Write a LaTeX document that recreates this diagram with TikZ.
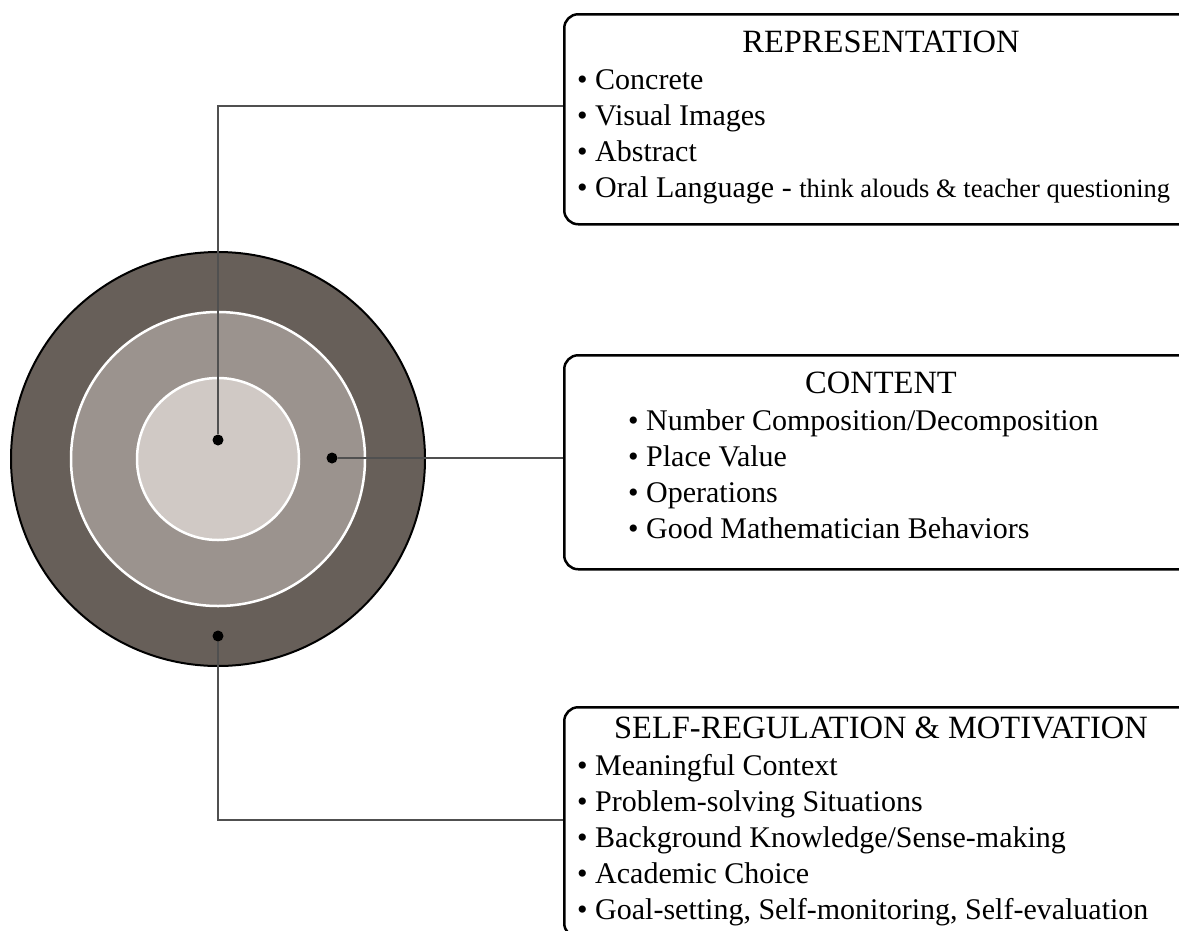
\documentclass[tikz,border=0pt]{standalone}
\usepackage{fontspec}
\setmainfont{Liberation Serif}

\definecolor{ringouter}{RGB}{103,95,89}
\definecolor{ringmid}{RGB}{155,147,142}
\definecolor{ringinner}{RGB}{208,201,197}
\definecolor{leadgray}{RGB}{80,80,80}

\tikzset{
    panel/.style={draw=black, line width=2.5pt, rounded corners=14pt,
        minimum width=636pt, inner sep=0pt, anchor=north west},
    heading/.style={anchor=base, inner sep=0pt, font=\fontsize{32.5}{36}\selectfont},
    item/.style={anchor=base west, inner sep=0pt, font=\fontsize{30}{36}\selectfont},
    pin/.style={circle, fill=black, inner sep=0pt, minimum size=11pt},
    leader/.style={draw=leadgray, line width=1.5pt}
}

\begin{document}
\begin{tikzpicture}[x=1pt, y=-1pt]
    \useasboundingbox (0,0) rectangle (1179,930);
    \clip (0,0) rectangle (1179,930);

    % Draw the three rings
    \coordinate (hub) at (218,459);
    \draw[fill=ringouter, draw=black, line width=2pt] (hub) circle (207pt);
    \draw[fill=ringmid, draw=white, line width=2.5pt] (hub) circle (147pt);
    \draw[fill=ringinner, draw=white, line width=2.5pt] (hub) circle (81pt);

    % Draw the dots on the rings
    \node[pin] (dotrep) at (218,440) {};
    \node[pin] (dotcon) at (332,458) {};
    \node[pin] (dotself) at (218,636) {};

    % Draw the boxes
    \node[panel, minimum height=210pt] (rep) at (563,13) {};
    \node[panel, minimum height=214pt] (con) at (563,354) {};
    \node[panel, minimum height=230pt] (self) at (563,706) {};

    % Draw the leader lines
    \coordinate (repjoin) at (563,106);
    \coordinate (selfjoin) at (563,820);
    \draw[leader] (dotrep) |- (repjoin);
    \draw[leader] (dotcon) -- (con.west |- dotcon);
    \draw[leader] (dotself) |- (selfjoin);

    % Representation box text
    \node[heading] (rephead) at (881,52) {REPRESENTATION};
    \foreach \txt [count=\i] in {Concrete, Visual Images, Abstract,
        {Oral Language - {\fontsize{26.5}{30}\selectfont think alouds \& teacher questioning}}} {
        \node[item] (repitem\i) at (577,{53+36*\i}) {\textbullet\ \txt};
    }

    % Content box text
    \node[heading] (conhead) at (881,393) {CONTENT};
    \foreach \txt [count=\i] in {Number Composition/Decomposition, Place Value,
        Operations, Good Mathematician Behaviors} {
        \node[item] (conitem\i) at (628,{394+36*\i}) {\textbullet\ \txt};
    }

    % Self-regulation box text
    \node[heading] (selfhead) at (881,738) {SELF-REGULATION \& MOTIVATION};
    \foreach \txt [count=\i] in {Meaningful Context, Problem-solving Situations,
        Background Knowledge/Sense-making, Academic Choice,
        {Goal-setting, Self-monitoring, Self-evaluation}} {
        \node[item] (selfitem\i) at (577,{739+36*\i}) {\textbullet\ \txt};
    }
\end{tikzpicture}
\end{document}
